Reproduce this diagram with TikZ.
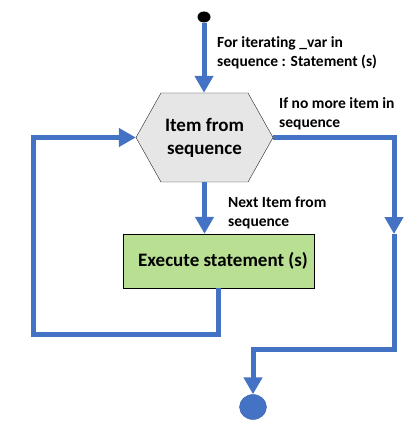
\documentclass[tikz,border=0pt]{standalone}
\usepackage{fontspec}
\setmainfont{Carlito}[Ligatures=NoCommon]
\usetikzlibrary{positioning, arrows.meta, shapes.geometric}

\definecolor{flowblue}{HTML}{4472C4}
\definecolor{hexgray}{HTML}{E7E6E6}
\definecolor{execgreen}{RGB}{185,224,146}

\begin{document}
\begin{tikzpicture}[
    x=1pt, y=-1pt,
    >={Triangle[length=17pt, width=18pt]},
    hexline/.style={draw=black!85, thin, fill=hexgray},
    hexbox/.style={
        rectangle, inner sep=0pt,
        minimum width=137pt, minimum height=89pt,
        font=\fontsize{19}{23}\selectfont\bfseries, align=center
    },
    execbox/.style={
        rectangle, draw, thin, fill=execgreen,
        minimum width=191pt, minimum height=54pt,
        font=\fontsize{19}{23}\selectfont\bfseries
    },
    startdot/.style={ellipse, fill=black, minimum width=13pt, minimum height=11pt, inner sep=0pt},
    enddot/.style={ellipse, fill=flowblue, draw=flowblue!85!black, minimum width=27pt, minimum height=25pt, inner sep=0pt},
    flow/.style={->, draw=flowblue, line width=5pt},
    lbl/.style={font=\fontsize{15.5}{19}\selectfont\bfseries, align=left, anchor=north west, inner sep=0pt},
]
\useasboundingbox (0,0) rectangle (419,427);

% Hexagon outline, the text node sits on top of it
\draw[hexline] (204.5, 137.5) ++(-68.5, 0) -- ++(25, -44.5) -- ++(87, 0)
    -- ++(25, 44.5) -- ++(-25, 44.5) -- ++(-87, 0) -- cycle;

% Nodes, top to bottom
\node[startdot] (start) at (204, 17) {};
\node[hexbox] (item) at (204.5, 137.5) {Item from\\sequence};
\node[execbox] (exec) at (218.5, 261) {\hspace{9pt}Execute statement (s)};
\node[enddot] (stop) at (253, 407) {};

% Bend points of the two outer lines
\coordinate (ytop) at (394, 137.5);
\coordinate (ymid) at (394, 234);
\coordinate (ylow) at (394, 349);
\coordinate (lbot) at (33.5, 334);

% Entry and next item
\draw[flow] (start) -- (start |- item.north);
\draw[flow] (item.south) -- (item.south |- exec.north);

% No more items: right side, down to the end
\draw[flow] (item.east) -- (ytop) -- (ymid);
\draw[flow] (ymid) -- (ylow) -| (stop.north);

% Loop back to the hexagon
\draw[flow] (exec.south) |- (lbot) |- (item.west);

% Labels
\node[lbl] (forlbl) at (217, 36) {For iterating \_var in\\sequence : Statement (s)};
\node[lbl] (nomore) at (279, 97) {If no more item in\\sequence};
\node[lbl] (nextlbl) at (228, 197) {Next Item from\\sequence};

\end{tikzpicture}
\end{document}
